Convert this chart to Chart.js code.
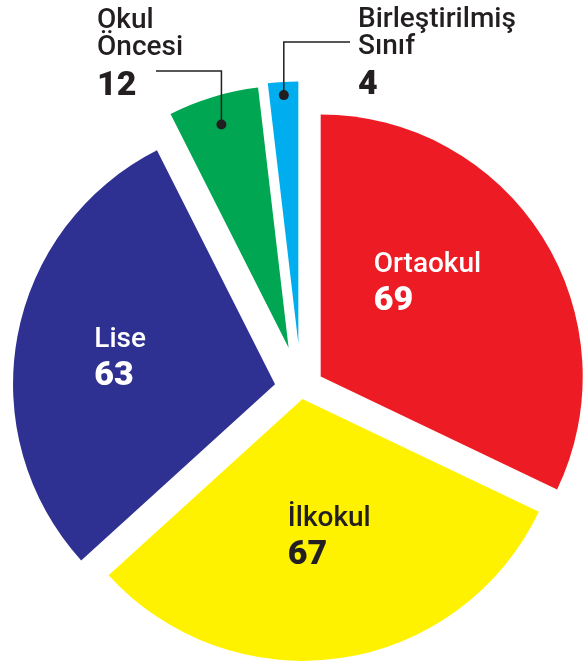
<!DOCTYPE html>
<html>
<head>
<meta charset="utf-8">
<script src="https://cdn.jsdelivr.net/npm/chart.js@4.4.1/dist/chart.umd.min.js"></script>
<style>
  html, body { margin: 0; padding: 0; background: #fff; }
  canvas { display: block; }
</style>
</head>
<body>
<canvas id="myChart" width="588" height="666"></canvas>
<script>
(() => {
  'use strict'

  // Data
  const categories = ['Ortaokul', 'İlkokul', 'Lise', ['Okul', 'Öncesi'], ['Birleştirilmiş', 'Sınıf']]
  const counts = [69, 67, 63, 12, 4]

  // Styles
  const sliceColors = ['#ED1C24', '#FFF200', '#2E3192', '#00A651', '#00AEEF']
  const textColors = ['#ffffff', '#231F20', '#ffffff', '#231F20', '#231F20']
  const explode = [23.3, 10, 26.4, 43, 45.5] // px each slice is pulled out
  const nameFont = '500 28px Roboto'
  const numFont = '900 34px Roboto'

  // label placement: inside ones by radius fraction / angle nudge,
  // outside ones with a leader line
  const insideLabels = {
    0: { f: 0.545, da: -9.4 },
    1: { f: 0.533, da: -2.7 },
    2: { f: 0.6, da: -0.6 }
  }
  const outsideLabels = {
    3: { f: 0.89, elbowY: 71, lineEnd: 156, textX: 97, top: 28 },
    4: { f: 0.95, elbowY: 42, lineEnd: 350, textX: 358, top: 27 }
  }

  const explodePlugin = {
    id: 'explode',
    afterDatasetUpdate(chart, args) {
      args.meta.data.forEach((arc, i) => {
        const mid = (arc.startAngle + arc.endAngle) / 2
        arc.x += Math.cos(mid) * explode[i]
        arc.y += Math.sin(mid) * explode[i]
      })
    }
  }

  const labelPlugin = {
    id: 'sliceLabels',
    afterDatasetsDraw(chart) {
      const ctx = chart.ctx
      const meta = chart.getDatasetMeta(0)
      ctx.save()
      ctx.textAlign = 'left'
      ctx.textBaseline = 'alphabetic'
      meta.data.forEach((arc, i) => {
        const mid = (arc.startAngle + arc.endAngle) / 2
        const R = arc.outerRadius
        const name = [].concat(chart.data.labels[i])
        const value = String(chart.data.datasets[0].data[i])
        ctx.fillStyle = textColors[i]

        if (insideLabels[i]) {
          const cfg = insideLabels[i]
          const a = mid + cfg.da * Math.PI / 180
          const px = arc.x + Math.cos(a) * cfg.f * R
          const py = arc.y + Math.sin(a) * cfg.f * R
          ctx.font = nameFont
          const w1 = ctx.measureText(name[0]).width
          ctx.font = numFont
          const w2 = ctx.measureText(value).width
          const left = px - Math.max(w1, w2) / 2
          ctx.font = nameFont
          ctx.fillText(name[0], left, py - 10)
          ctx.font = numFont
          ctx.fillText(value, left, py + 28)
        } else if (outsideLabels[i]) {
          const cfg = outsideLabels[i]
          const dx = arc.x + Math.cos(mid) * cfg.f * R
          const dy = arc.y + Math.sin(mid) * cfg.f * R
          ctx.strokeStyle = '#231F20'
          ctx.lineWidth = 1.5
          ctx.beginPath()
          ctx.moveTo(dx, dy)
          ctx.lineTo(dx, cfg.elbowY)
          ctx.lineTo(cfg.lineEnd, cfg.elbowY)
          ctx.stroke()
          ctx.beginPath()
          ctx.arc(dx, dy, 5, 0, Math.PI * 2)
          ctx.fillStyle = '#231F20'
          ctx.fill()

          ctx.font = nameFont
          name.forEach((line, k) => ctx.fillText(line, cfg.textX, cfg.top + k * 27))
          ctx.font = numFont
          ctx.fillText(value, cfg.textX, cfg.top + 67)
        }
      })
      ctx.restore()
    }
  }

  const ctx2 = document.getElementById('myChart')

  // eslint-disable-next-line no-unused-vars
  const myChart = new Chart(ctx2, {
    type: 'pie',
    data: {
      labels: categories,
      datasets: [{
        data: counts,
        backgroundColor: sliceColors,
        borderWidth: 0
      }]
    },
    options: {
      responsive: false,
      animation: false,
      events: [],
      radius: 262,
      layout: {
        padding: { left: 14, right: 0, top: 112, bottom: 0 }
      },
      plugins: {
        legend: { display: false },
        tooltip: { enabled: false }
      }
    },
    plugins: [explodePlugin, labelPlugin]
  })
})()
</script>
</body>
</html>
